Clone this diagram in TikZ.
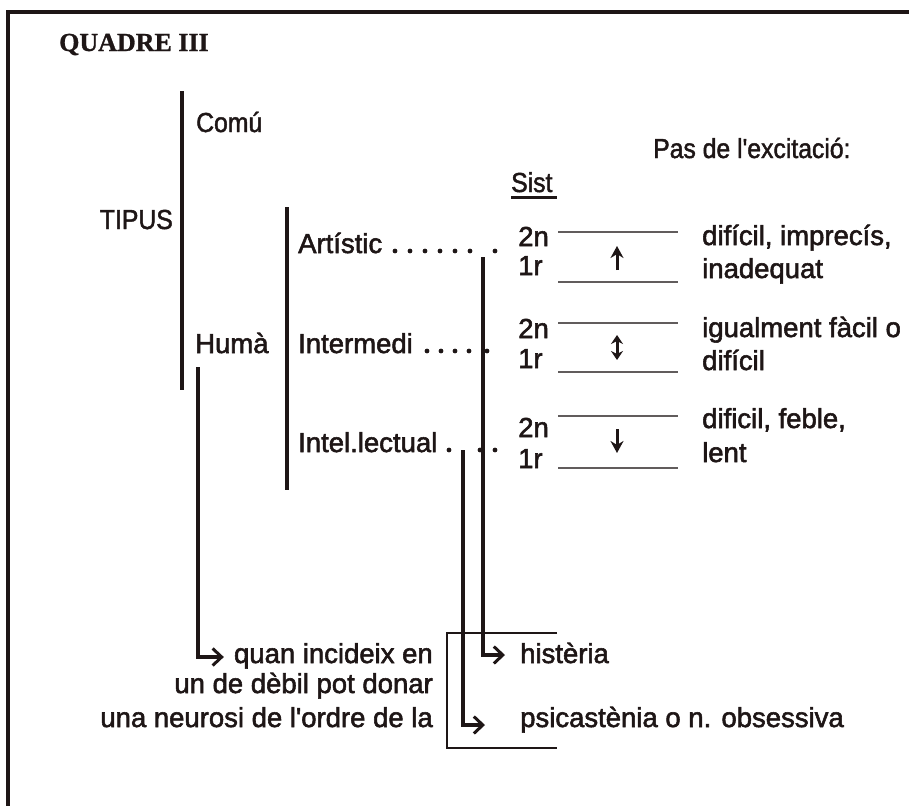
\documentclass[tikz,border=0pt]{standalone}
\usepackage{fontspec}
\setmainfont{Liberation Sans}
\newfontfamily\qfont[FakeBold=1]{Liberation Serif}
\newfontfamily\bodyfont[FakeBold=2]{Liberation Sans}
\newfontfamily\condfont[FakeStretch=0.9,FakeBold=1.6]{Liberation Sans}
\usetikzlibrary{arrows.meta}
\definecolor{ink}{RGB}{30,22,22}
\begin{document}
\begin{tikzpicture}[x=1pt,y=-1pt,
  txt/.style={inner sep=0pt, font=\bodyfont\fontsize{27.5}{30}\selectfont, text=ink},
  ctxt/.style={inner sep=0pt, font=\condfont\fontsize{27.5}{30}\selectfont, text=ink},
  bar/.style={line width=3.2pt, draw=ink},
  conn/.style={line width=3.2pt, draw=ink, -{Straight Barb[length=9pt,width=17pt,line width=3pt]}},
  bracketline/.style={line width=2pt, draw=ink},
  sysline/.style={line width=2pt, draw=ink!70},
  vert/.style={line width=3pt, draw=ink},
  ]
\useasboundingbox (0,0) rectangle (909,806);
% frame (top and left only)
\draw[line width=3.6pt, draw=ink] (909,12) -- (8,12) -- (8,806);

\node[anchor=base west, inner sep=0pt, text=ink, font=\qfont\bfseries\fontsize{26}{28}\selectfont] (title) at (59,51) {QUADRE III};

% left hierarchy
\node[ctxt, anchor=base west] (comu) at (196,132) {Comú};
\node[ctxt, anchor=base east] (tipus) at (173,229) {TIPUS};
\node[txt, anchor=base west] (huma) at (195,353) {Humà};
\coordinate (b1t) at (182,91);
\coordinate (b1b) at (182,390);
\draw[bar] (b1t) -- (b1b);

\node[txt, anchor=base west] (art) at (298,253) {Artístic};
\node[txt, anchor=base west] (inter) at (298,353) {Intermedi};
\node[txt, anchor=base west] (intel) at (298,452) {Intel.lectual};
\coordinate (b2t) at (287,207);
\coordinate (b2b) at (287,490);
\draw[bar] (b2t) -- (b2b);

% dotted leaders
\foreach \x in {395,410,425,440,455,470,495} \fill[ink] (\x,251) circle (2.4);
\foreach \x in {427,441,455,469,487} \fill[ink] (\x,351) circle (2.4);
\foreach \x in {449,480,495} \fill[ink] (\x,450) circle (2.4);

% header texts
\node[ctxt, anchor=base west] (pas) at (653,158) {Pas de l'excitació:};
\node[ctxt, anchor=base west] (sist) at (511,192) {Sist};
\draw[line width=3pt, draw=ink] (sist.base west) ++(0,5.5) -- ++(46,0);

% system rows
\node[txt, anchor=base west] (a2) at (518,246) {2n};
\node[txt, anchor=base west] (a1) at (518,275) {1r};
\node[txt, anchor=base west] (m2) at (518,338) {2n};
\node[txt, anchor=base west] (m1) at (518,368) {1r};
\node[txt, anchor=base west] (l2) at (518,437) {2n};
\node[txt, anchor=base west] (l1) at (518,468) {1r};

\foreach \y in {232,282,323,372,416,468} \draw[sysline] (558,\y) -- (678,\y);

\draw[vert, -{Stealth[length=12pt,width=13pt]}] (617,270) -- (617,246);
\draw[vert, {Stealth[length=9pt,width=12pt]}-{Stealth[length=9pt,width=12pt]}] (617,335) -- (617,360);
\draw[vert, -{Stealth[length=12pt,width=13pt]}] (617,429) -- (617,453);

\node[txt, anchor=base west] (ra1) at (702,245) {difícil, imprecís,};
\node[txt, anchor=base west] (ra2) at (702,278) {inadequat};
\node[txt, anchor=base west] (rm1) at (702,337) {igualment fàcil o};
\node[txt, anchor=base west] (rm2) at (702,370) {difícil};
\node[txt, anchor=base west] (rl1) at (702,428) {dificil, feble,};
\node[txt, anchor=base west] (rl2) at (702,462) {lent};

% bottom texts
\node[txt, anchor=base east] (q1) at (433,663) {quan incideix en};
\node[txt, anchor=base east] (q2) at (433,693) {un de dèbil pot donar};
\node[txt, anchor=base east] (q3) at (433,727) {una neurosi de l'ordre de la};
\node[txt, anchor=base west] (hist) at (520,663) {histèria};
\node[txt, anchor=base west] (psic) at (520,727) {psicastènia o n. obsessiva};

% bracket
\draw[bracketline] (557,633) -| (447,748) -- (557,748);

% connectors
\coordinate (h0) at (198,367);
\draw[conn, shorten >=10pt] (h0) |- ([yshift=6pt]q1.base west);
\coordinate (a0) at (483,257);
\draw[conn, shorten >=15pt] (a0) |- ([yshift=8pt]hist.base west);
\coordinate (i0) at (463,450);
\draw[conn, shorten >=35pt] (i0) |- ([yshift=2pt]psic.base west);
\end{tikzpicture}
\end{document}
